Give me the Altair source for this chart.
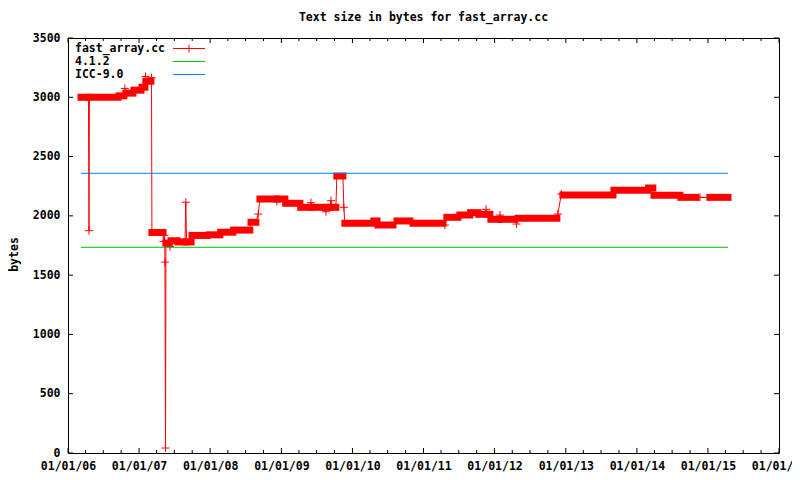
import altair as alt
import pandas as pd

# ---- data ----
run_start = ["2006-03-09","2006-04-21","2006-09-20","2006-10-25","2006-12-06","2007-01-16","2007-02-05",
             "2007-03-08","2007-05-19","2007-06-14","2007-07-20","2007-09-02","2007-09-30","2007-12-28",
             "2008-02-24","2008-05-01","2008-07-29","2008-09-13","2008-12-13","2009-01-23","2009-04-10",
             "2009-06-12","2009-08-23","2009-09-18","2009-10-13","2009-11-23","2010-04-21","2010-05-12",
             "2010-08-18","2010-11-08","2011-05-01","2011-07-07","2011-08-31","2011-10-12","2011-11-22",
             "2011-12-13","2012-02-03","2012-04-30","2012-12-17","2013-09-05","2014-03-02","2014-03-30",
             "2014-08-15","2015-01-11"]
run_end = ["2006-04-16","2006-09-15","2006-10-15","2006-11-30","2007-01-11","2007-01-31","2007-03-03",
           "2007-05-04","2007-06-05","2007-07-15","2007-08-25","2007-09-25","2007-12-16","2008-02-20",
           "2008-04-27","2008-07-23","2008-08-23","2008-12-05","2009-01-19","2009-04-06","2009-05-28",
           "2009-08-13","2009-09-06","2009-10-08","2009-11-13","2010-04-16","2010-05-07","2010-07-28",
           "2010-10-23","2011-04-11","2011-06-27","2011-08-27","2011-10-08","2011-11-14","2011-12-08",
           "2012-01-23","2012-04-15","2012-11-16","2013-08-31","2014-02-27","2014-03-24","2014-08-10",
           "2014-10-31","2015-04-14"]
run_value = [3000, 3000, 3012, 3035, 3060, 3085, 3135, 1860, 1770, 1790,
             1780, 1780, 1835, 1840, 1862, 1880, 1946, 2142, 2142, 2106,
             2072, 2072, 2072, 2072, 2336, 1937, 1957, 1923, 1957, 1937,
             1988, 2007, 2027, 2013, 2013, 1971, 1971, 1979, 2176, 2215,
             2235, 2173, 2156, 2156]

spike_date = ["2006-04-19","2006-10-20","2007-02-03","2007-03-06","2007-05-06","2007-05-12","2007-05-14",
              "2007-05-17","2007-06-09","2007-08-29","2008-09-04","2008-12-09","2009-06-02","2009-08-18",
              "2009-09-13","2009-11-18","2011-04-21","2011-11-18","2012-01-29","2012-04-23","2012-11-21",
              "2012-12-09","2014-11-21"]
spike_value = [1875, 3075, 3175, 3165, 1785, 1835, 1610,
               42, 1740, 2115, 2015, 2120, 2111, 2035,
               2128, 2072, 1923, 2055, 2007, 1931, 2015,
               2184, 2156]

ref_dates = ["2006-03-09", "2015-04-14"]
gcc412_value = 1735
icc90_value = 2359

title_text = "Text size in bytes for fast_array.cc"
legend_labels = ["fast_array.cc", "4.1.2", "ICC-9.0"]
y_ticks = [0, 500, 1000, 1500, 2000, 2500, 3000, 3500]
year_ticks = [f"{y}-01-01" for y in range(2006, 2017)]
minor_ticks = [f"{y}-{m}-01" for y in range(2006, 2016) for m in ("04", "07", "10")]

# ---- styling ----
FONT = "DejaVu Sans Mono"
FS = 11.5
RED, GREEN, BLUE = "#ff0000", "#00c000", "#0080ff"
W, H = 711, 415
PLUS = "M-1,0L1,0M0,-1L0,1"

xscale = alt.Scale(type="utc",
                   domain=[alt.DateTime(year=2006, month=1, date=1, utc=True),
                           alt.DateTime(year=2016, month=1, date=1, utc=True)],
                   nice=False)
yscale = alt.Scale(domain=[0, 3500], nice=False, zero=False)
xaxis = alt.Axis(values=[alt.DateTime(year=y, month=1, date=1, utc=True) for y in range(2006, 2017)],
                 labelExpr="utcFormat(datum.value, '%m/%d/%y')", title=None, ticks=False, domain=False,
                 grid=False, labelFont=FONT, labelFontWeight="bold", labelFontSize=FS,
                 labelColor="black", labelPadding=7, labelOverlap=False, labelFlush=False)
yaxis = alt.Axis(values=y_ticks, format="d", title="bytes", ticks=False, domain=False, grid=False,
                 labelFont=FONT, labelFontWeight="bold", labelFontSize=FS, labelColor="black",
                 labelPadding=8, titleFont=FONT, titleFontWeight="bold", titleFontSize=FS,
                 titleColor="black", titleX=-54, titleY=216, titleAngle=-90,
                 titleAlign="center", titleBaseline="middle")

X = alt.X("date:T", scale=xscale, axis=xaxis)
Y = alt.Y("value:Q", scale=yscale, axis=yaxis)

runs = pd.DataFrame({"date": run_start, "end": run_end, "value": run_value})
spikes = pd.DataFrame({"date": spike_date, "value": spike_value})
line_df = pd.concat([
    pd.DataFrame({"date": run_start, "value": run_value}),
    pd.DataFrame({"date": run_end, "value": run_value}),
    spikes,
]).sort_values("date").reset_index(drop=True)

ref412 = pd.DataFrame({"date": ref_dates, "value": [gcc412_value] * 2})
reficc = pd.DataFrame({"date": ref_dates, "value": [icc90_value] * 2})

main_line = alt.Chart(line_df).mark_line(color=RED, strokeWidth=1).encode(x=X, y=Y)
run_blocks = alt.Chart(runs).mark_rule(color=RED, strokeWidth=7, strokeCap="square").encode(
    x=X, x2="end:T", y=Y)
spike_pts = alt.Chart(spikes).mark_point(shape=PLUS, size=64, filled=False, color=RED,
                                         strokeWidth=1, opacity=1).encode(x=X, y=Y)
line412 = alt.Chart(ref412).mark_line(color=GREEN, strokeWidth=1).encode(x=X, y=Y)
lineicc = alt.Chart(reficc).mark_line(color=BLUE, strokeWidth=1).encode(x=X, y=Y)

# inward mirrored ticks
ydf = pd.DataFrame({"value": y_ticks})
majdf = pd.DataFrame({"date": year_ticks})
mindf = pd.DataFrame({"date": minor_ticks})
tk = dict(color="black", strokeWidth=1)
ticks = [
    alt.Chart(ydf).mark_rule(**tk).encode(y=Y, x=alt.value(0), x2=alt.value(5)),
    alt.Chart(ydf).mark_rule(**tk).encode(y=Y, x=alt.value(W - 5), x2=alt.value(W)),
    alt.Chart(majdf).mark_rule(**tk).encode(x=X, y=alt.value(H), y2=alt.value(H - 5)),
    alt.Chart(majdf).mark_rule(**tk).encode(x=X, y=alt.value(0), y2=alt.value(5)),
    alt.Chart(mindf).mark_rule(**tk).encode(x=X, y=alt.value(H), y2=alt.value(H - 3)),
    alt.Chart(mindf).mark_rule(**tk).encode(x=X, y=alt.value(0), y2=alt.value(3)),
]

# title
title = alt.Chart(pd.DataFrame({"t": [title_text]})).mark_text(
    font=FONT, fontWeight="bold", fontSize=FS, color="black", align="center", baseline="middle"
).encode(text="t:N", x=alt.value(W / 2), y=alt.value(-20))

# legend (key inside top-left)
leg = []
leg_colors = [RED, GREEN, BLUE]
leg_y = [11, 24, 37]
for lab, col, yy in zip(legend_labels, leg_colors, leg_y):
    leg.append(alt.Chart(pd.DataFrame({"t": [lab]})).mark_text(
        font=FONT, fontWeight="bold", fontSize=FS, color="black", align="left", baseline="middle"
    ).encode(text="t:N", x=alt.value(7), y=alt.value(yy)))
    leg.append(alt.Chart(pd.DataFrame({"t": [lab]})).mark_rule(color=col, strokeWidth=1).encode(
        x=alt.value(105), x2=alt.value(137), y=alt.value(yy - 0.5)))
leg.append(alt.Chart(pd.DataFrame({"t": [legend_labels[0]]})).mark_point(
    shape=PLUS, size=64, filled=False, color=RED, strokeWidth=1, opacity=1
).encode(x=alt.value(121), y=alt.value(10.5)))

chart = alt.layer(
    main_line, run_blocks, spike_pts, line412, lineicc, *ticks, title, *leg
).properties(
    width=W, height=H,
    autosize=alt.AutoSizeParams(type="none"),
    padding={"left": 60, "top": 30, "right": 13, "bottom": 25},
    background="white",
).configure_view(stroke="black", strokeWidth=1)

chart.save("out.html", embed_options={"renderer": "svg", "actions": False})
